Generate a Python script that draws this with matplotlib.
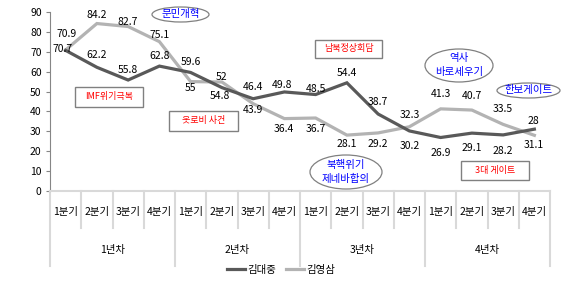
import matplotlib
matplotlib.use("Agg")
import matplotlib.pyplot as plt
from matplotlib.patches import Ellipse, Rectangle
import matplotlib.transforms as mtransforms

plt.rcParams['font.family'] = ['Noto Sans CJK KR', 'DejaVu Sans']

# data
years = ["1년차", "2년차", "3년차", "4년차"]
quarters = ["1분기", "2분기", "3분기", "4분기"]
kdj = [70.7, 62.2, 55.8, 62.8, 59.6, 52, 46.4, 49.8,
       48.5, 54.4, 38.7, 30.2, 26.9, 29.1, 28.2, 31.1]
kys = [70.9, 84.2, 82.7, 75.1, 55, 54.8, 43.9, 36.4,
       36.7, 28.1, 29.2, 32.3, 41.3, 40.7, 33.5, 28]
kdj_lbl = ["70.7", "62.2", "55.8", "62.8", "59.6", "52", "46.4", "49.8",
           "48.5", "54.4", "38.7", "30.2", "26.9", "29.1", "28.2", "31.1"]
kys_lbl = ["70.9", "84.2", "82.7", "75.1", "55", "54.8", "43.9", "36.4",
           "36.7", "28.1", "29.2", "32.3", "41.3", "40.7", "33.5", "28"]

# label offsets in pixels (dx, dy up)
kdj_off = [(-3, 1), (0, 12), (0, 10), (0, 10), (0, 10), (0, 11), (0, 12), (-2, 7),
           (0, 6), (0, 10), (0, 12), (0, -15), (0, -16), (0, -15), (0, -16), (-1, -16)]
kys_off = [(1, 16), (0, 9), (0, 5), (0, 7), (0, -6), (-2, -14), (0, -6), (-1, -10),
           (0, -11), (0, -9), (0, -11), (0, 12), (0, 15), (0, 14), (0, 15), (-1, 14)]

W, H = 562, 289
fig = plt.figure(figsize=(W / 100, H / 100), dpi=100)
ax = fig.add_axes([50 / W, 1 - 191 / H, 500 / W, 179 / H])

n = len(kdj)
xs = list(range(n))
dark = "#595959"
light = "#b3b3b3"
ax.plot(xs, kdj, color=dark, lw=2.3, solid_joinstyle="miter", label="김대중", zorder=3)
ax.plot(xs, kys, color=light, lw=2.3, solid_joinstyle="miter", label="김영삼", zorder=2)

for i in range(n):
    ax.annotate(kdj_lbl[i], (xs[i], kdj[i]), xytext=kdj_off[i], textcoords="offset pixels",
                ha="center", va="center", fontsize=7.5, color="black")
    ax.annotate(kys_lbl[i], (xs[i], kys[i]), xytext=kys_off[i], textcoords="offset pixels",
                ha="center", va="center", fontsize=7.5, color="black")

ax.set_xlim(-0.5, n - 0.5)
ax.set_ylim(0, 90)
ax.set_yticks(range(0, 91, 10))
ax.tick_params(axis="y", labelsize=7.5, length=3, color="#868686", pad=3)
ax.set_xticks([])
for s in ["top", "right"]:
    ax.spines[s].set_visible(False)
ax.spines["left"].set_color("#868686")
ax.spines["bottom"].set_color("#d9d9d9")
ax.spines["bottom"].set_linewidth(1.5)

# multi-level category axis
tr = mtransforms.blended_transform_factory(ax.transData, ax.transAxes)
ph = 179.0
for b in range(n + 1):
    depth = 75 if b % 4 == 0 else 37
    ax.plot([b - 0.5, b - 0.5], [0, -depth / ph], transform=tr, color="#d9d9d9",
            lw=1.5, clip_on=False)
for i in range(n):
    ax.text(xs[i], -21 / ph, quarters[i % 4], transform=tr, ha="center", va="center",
            fontsize=7.5)
for j, yname in enumerate(years):
    ax.text(j * 4 + 1.5, -59 / ph, yname, transform=tr, ha="center", va="center",
            fontsize=7.5)

fig.legend(loc="center", bbox_to_anchor=(281 / W, 1 - 270 / H), ncol=2, frameon=False,
           fontsize=7.5, handlelength=1.7, handletextpad=0.2, columnspacing=1.0)


# annotations (pixel boxes)
def fx(x):
    return x / W


def fy(y):
    return 1 - y / H


ellipses = [("문민개혁", 180.5, 14.5, 57, 15),
            ("역사\n바로세우기", 459, 65.5, 68, 33),
            ("한보게이트", 528.5, 90.5, 63, 15),
            ("북핵위기\n제네바합의", 346, 172, 72, 34)]
for txt, cx, cy, w, h in ellipses:
    fig.patches.append(Ellipse((fx(cx), fy(cy)), w / W, h / H, transform=fig.transFigure,
                               facecolor="white", edgecolor="#808080", lw=0.9, zorder=5))
    fig.text(fx(cx), fy(cy), txt, ha="center", va="center", color="#0000ff",
             fontsize=7.5, linespacing=1.5, zorder=6)

boxes = [("IMF위기극복", 75, 87, 143, 107),
         ("옷로비 사건", 169, 111, 238, 131),
         ("남북정상회담", 315, 40, 382, 58),
         ("3대 게이트", 461, 161, 529, 180)]
for txt, x0, y0, x1, y1 in boxes:
    fig.patches.append(Rectangle((fx(x0), fy(y1)), (x1 - x0) / W, (y1 - y0) / H,
                                 transform=fig.transFigure, facecolor="white",
                                 edgecolor="#808080", lw=1.0, zorder=5))
    fig.text(fx((x0 + x1) / 2), fy((y0 + y1) / 2), txt, ha="center", va="center",
             color="#ff0000", fontsize=6.5, zorder=6)

fig.savefig("out.png", dpi=100)
